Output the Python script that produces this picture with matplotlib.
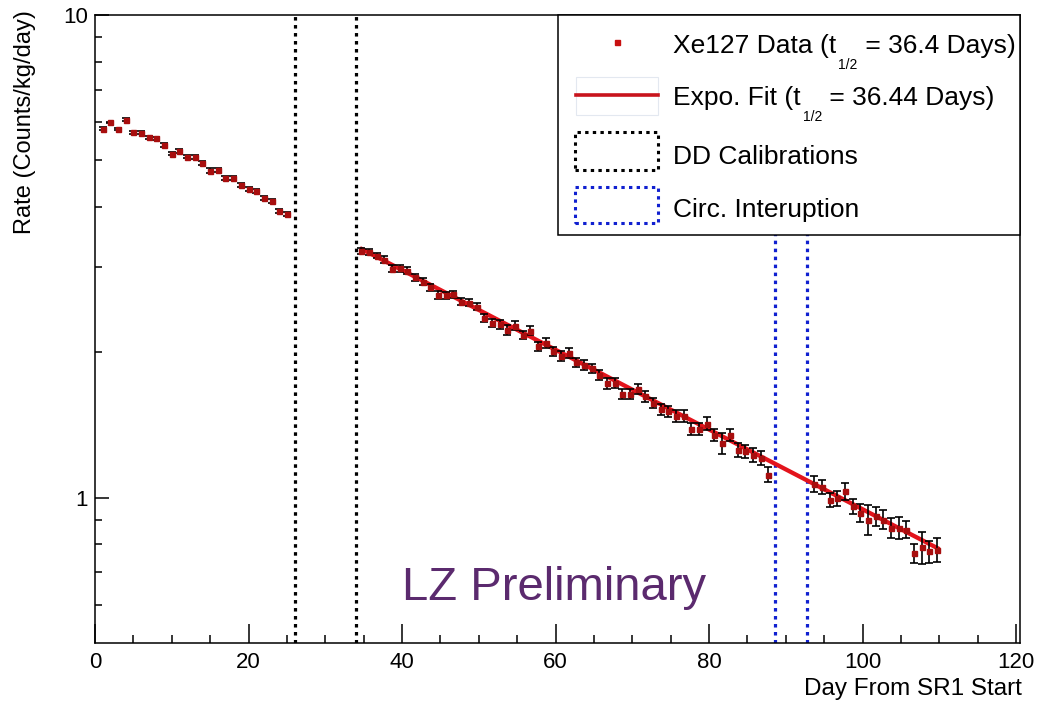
import numpy as np
import matplotlib
matplotlib.use("Agg")
import matplotlib.pyplot as plt
from matplotlib.patches import Rectangle
from matplotlib.lines import Line2D
from matplotlib.ticker import MultipleLocator, FixedLocator, NullFormatter

plt.rcParams['font.family'] = ['Liberation Sans', 'DejaVu Sans']

# ---- Xe127 rate data (daily bins) ----
days_a = list(range(1, 26))
rate_a = [5.81, 5.99, 5.80, 6.07, 5.71, 5.70, 5.58, 5.55, 5.38, 5.16,
          5.23, 5.09, 5.08, 4.94, 4.76, 4.78, 4.60, 4.60, 4.45, 4.36,
          4.31, 4.17, 4.11, 3.92, 3.87]
err_a = [0.04, 0.02, 0.02, 0.05, 0.04, 0.04, 0.04, 0.04, 0.05, 0.03,
         0.05, 0.04, 0.04, 0.04, 0.05, 0.05, 0.04, 0.04, 0.04, 0.04,
         0.04, 0.04, 0.04, 0.04, 0.04]

days_b = [d - 0.3 for d in range(35, 89)]
rate_b = [3.247, 3.226, 3.175, 3.110, 2.979, 2.989, 2.951, 2.863, 2.804, 2.731,
          2.633, 2.624, 2.641, 2.549, 2.537, 2.489, 2.355, 2.300, 2.289, 2.227,
          2.271, 2.175, 2.220, 2.057, 2.091, 2.009, 1.968, 1.994, 1.906, 1.886,
          1.856, 1.797, 1.728, 1.728, 1.642, 1.642, 1.679, 1.621, 1.571, 1.526,
          1.509, 1.478, 1.478, 1.387, 1.387, 1.423, 1.350, 1.298, 1.350, 1.257,
          1.247, 1.228, 1.209, 1.116]
err_b = [0.045, 0.045, 0.045, 0.05, 0.05, 0.05, 0.05, 0.045, 0.045, 0.045,
         0.05, 0.045, 0.045, 0.045, 0.045, 0.045, 0.045, 0.045, 0.05, 0.05,
         0.05, 0.045, 0.045, 0.045, 0.05, 0.045, 0.045, 0.045, 0.045, 0.045,
         0.04, 0.04, 0.045, 0.04, 0.04, 0.04, 0.04, 0.04, 0.04, 0.04,
         0.04, 0.04, 0.045, 0.04, 0.04, 0.045, 0.04, 0.065, 0.04, 0.04,
         0.04, 0.04, 0.04, 0.04]

days_c = [d - 0.3 for d in range(94, 111)]
rate_c = [1.069, 1.052, 0.990, 0.998, 1.031, 0.959, 0.930, 0.901, 0.915, 0.901,
          0.866, 0.866, 0.859, 0.768, 0.790, 0.774, 0.780]
err_c = [0.04, 0.035, 0.035, 0.035, 0.04, 0.035, 0.04, 0.065, 0.04, 0.04,
         0.04, 0.045, 0.035, 0.035, 0.06, 0.04, 0.045]

# Exponential fit
fit_amp = 6.34
fit_half_life = 36.44
fit_range = (34.5, 110.0)

# Periods excluded from the fit
dd_calibrations = [26.0, 34.0]
circ_interruption = [88.6, 92.7]

xticks = [0, 20, 40, 60, 80, 100, 120]
yticks = [1, 10]
yticklabels = ['1', '10']
yminor = [0.6, 0.7, 0.8, 0.9, 2, 3, 4, 5, 6, 7, 8, 9]

W, H = 1049, 701
fig = plt.figure(figsize=(W / 100, H / 100), dpi=100)
ax = fig.add_axes([95 / W, 1 - 643 / H, 925 / W, 628 / H])


def fx(px):
    return px / W


def fy(py):
    return 1 - py / H


ax.set_yscale('log')
ax.set_xlim(0, 120.5)
ax.set_ylim(0.5, 10)

dot = (0, (1.1, 1.4))
for xv in dd_calibrations:
    ax.axvline(xv, color='black', lw=2.3, linestyle=dot, zorder=2)
for xv in circ_interruption:
    ax.axvline(xv, color='#1020d0', lw=2.3, linestyle=dot, zorder=2)

xf = np.linspace(fit_range[0], fit_range[1], 300)
ax.plot(xf, fit_amp * 2 ** (-xf / fit_half_life), color='#e3141c', lw=3.1,
        zorder=3, solid_capstyle='butt')

days = days_a + days_b + days_c
rate = rate_a + rate_b + rate_c
err = err_a + err_b + err_c
ax.errorbar(days, rate, yerr=err, fmt='s', ms=3.6, mfc='#a80e0e', mec='#a80e0e',
            ecolor='black', elinewidth=1.2, capsize=2.8, capthick=1.2, zorder=4)

ax.xaxis.set_major_locator(FixedLocator(xticks))
ax.xaxis.set_minor_locator(MultipleLocator(5))
ax.yaxis.set_major_locator(FixedLocator(yticks))
ax.yaxis.set_minor_locator(FixedLocator(yminor))
ax.yaxis.set_minor_formatter(NullFormatter())
ax.set_yticklabels(yticklabels)
ax.tick_params(which='both', direction='in', top=False, right=False, width=1.1,
               labelsize=16)
ax.tick_params(axis='x', which='major', length=13.5, pad=6.5)
ax.tick_params(axis='x', which='minor', length=5.8)
ax.tick_params(axis='y', which='major', length=10, pad=5)
ax.tick_params(axis='y', which='minor', length=5)
for sp in ax.spines.values():
    sp.set_linewidth(1.1)

fig.text(fx(25), fy(10), 'Rate (Counts/kg/day)', rotation=90, ha='center',
         va='top', fontsize=17)
fig.text(fx(1022), fy(695), 'Day From SR1 Start', ha='right', va='baseline',
         fontsize=17.5)

ax.text(40, 0.615, 'LZ Preliminary', color='#5b2a6e', fontsize=34,
        ha='left', va='baseline', zorder=5)

# ---- legend box ----
fig.add_artist(Rectangle((fx(558), fy(235)), fx(1020) - fx(558), fy(15) - fy(235),
                         transform=fig.transFigure, facecolor='white',
                         edgecolor='black', lw=1.1, zorder=10))
fig.add_artist(Line2D([fx(617)], [fy(42)], marker='s', ms=3.6, color='#c81010',
                      transform=fig.transFigure, zorder=11, linestyle='none'))
fig.add_artist(Rectangle((fx(576), fy(115)), fx(658) - fx(576), fy(77) - fy(115),
                         transform=fig.transFigure, facecolor='none',
                         edgecolor='#e3e8f0', lw=0.8, zorder=11))
fig.add_artist(Line2D([fx(576), fx(658)], [fy(95), fy(95)], color='#c8141c', lw=2.6,
                      transform=fig.transFigure, zorder=11))
fig.add_artist(Rectangle((fx(575), fy(170)), fx(658) - fx(575), fy(132) - fy(170),
                         transform=fig.transFigure, facecolor='none',
                         edgecolor='black', lw=2.2, linestyle=dot, zorder=11))
fig.add_artist(Rectangle((fx(575), fy(223)), fx(658) - fx(575), fy(187) - fy(223),
                         transform=fig.transFigure, facecolor='none',
                         edgecolor='#1020d0', lw=2.2, linestyle=dot, zorder=11))

renderer = fig.canvas.get_renderer()


def sub_label(x_px, base_px, pre, sub, post, size=19, sub_size=10, drop=16):
    t1 = fig.text(fx(x_px), fy(base_px), pre, fontsize=size, va='baseline', zorder=12)
    b1 = t1.get_window_extent(renderer)
    t2 = fig.text(b1.x1 / W + 0.002, fy(base_px + drop), sub, fontsize=sub_size,
                  va='baseline', zorder=12)
    b2 = t2.get_window_extent(renderer)
    fig.text(b2.x1 / W, fy(base_px), post, fontsize=size, va='baseline', zorder=12)


sub_label(673, 53, 'Xe127 Data (t', '1/2', ' = 36.4 Days)')
sub_label(673, 105, 'Expo. Fit (t', '1/2', ' = 36.44 Days)')
fig.text(fx(673), fy(164), 'DD Calibrations', fontsize=19, va='baseline', zorder=12)
fig.text(fx(673), fy(217), 'Circ. Interuption', fontsize=19, va='baseline', zorder=12)

fig.savefig('out.png', dpi=100)
